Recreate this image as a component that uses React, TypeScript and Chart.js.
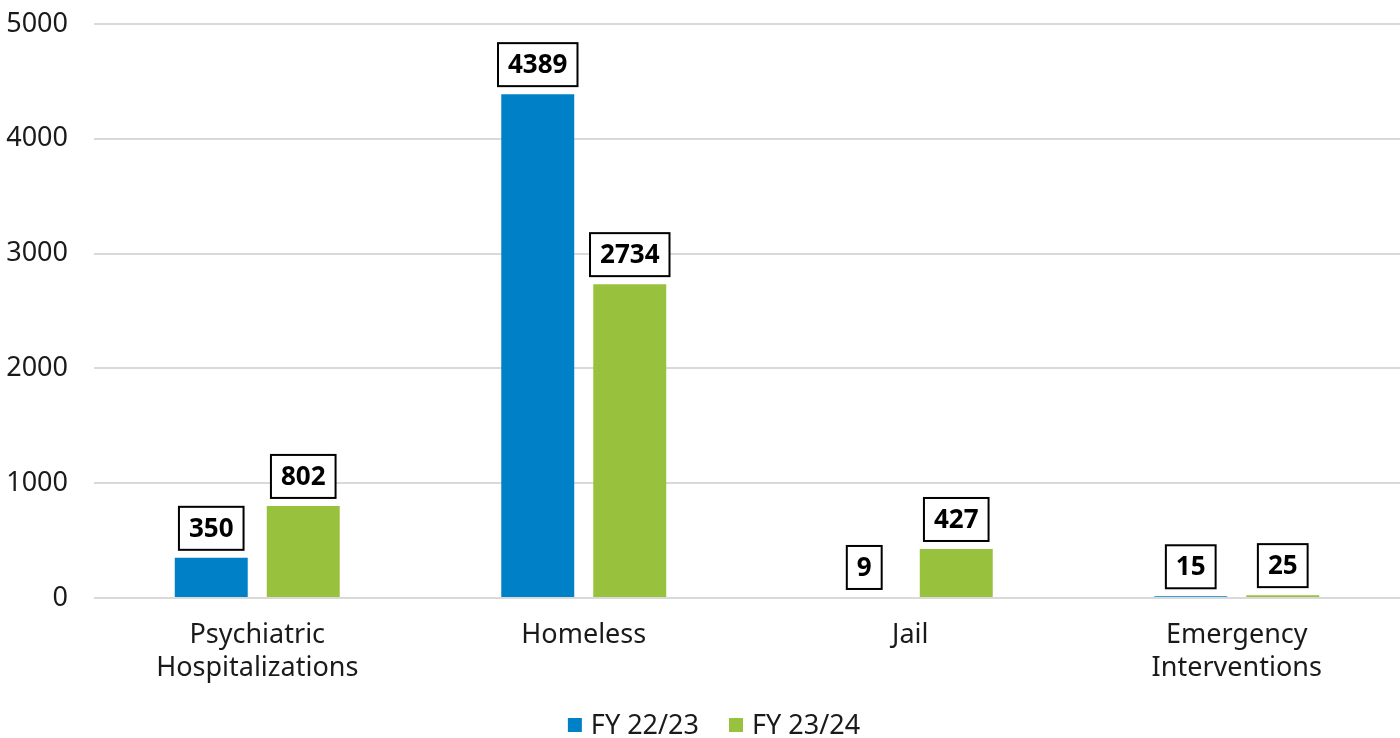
import React, { useEffect, useRef } from "react";
import { Chart, registerables } from "chart.js";

Chart.register(...registerables);

const categories: (string | string[])[] = [
  ["Psychiatric", "Hospitalizations"],
  "Homeless",
  "Jail",
  ["Emergency", "Interventions"],
];
const seriesNames = ["FY 22/23", "FY 23/24"];
const fy2223 = [350, 4389, 9, 15];
const fy2324 = [802, 2734, 427, 25];
const colors = ["#0080C6", "#98C13D"];
const yTicks = [0, 1000, 2000, 3000, 4000, 5000];

const FONT = "'Noto Sans', 'Lato', sans-serif";

const labelPlugin = {
  id: "boxLabels",
  afterDatasetsDraw(chart: any) {
    const ctx = chart.ctx;
    ctx.save();
    ctx.font = `bold 26px ${FONT}`;
    ctx.textAlign = "center";
    ctx.textBaseline = "middle";
    chart.data.datasets.forEach((ds: any, di: number) => {
      const meta = chart.getDatasetMeta(di);
      meta.data.forEach((bar: any, i: number) => {
        const text = String(ds.data[i]);
        const tw = ctx.measureText(text).width;
        const w = tw + 20;
        const h = 43;
        const x = bar.x - w / 2;
        const y = bar.y - 8 - h;
        ctx.fillStyle = "#ffffff";
        ctx.fillRect(x, y, w, h);
        ctx.lineWidth = 2;
        ctx.strokeStyle = "#000000";
        ctx.strokeRect(x, y, w, h);
        ctx.fillStyle = "#000000";
        ctx.fillText(text, bar.x, y + h / 2 + 1);
      });
    });
    ctx.restore();
  },
};

const legendPlugin = {
  id: "customLegend",
  afterDraw(chart: any) {
    const ctx = chart.ctx;
    ctx.save();
    ctx.font = `27px ${FONT}`;
    ctx.textBaseline = "middle";
    ctx.textAlign = "left";
    const box = 14;
    const gap = 9;
    const itemGap = 30;
    const widths = seriesNames.map((n) => box + gap + ctx.measureText(n).width);
    const total = widths.reduce((a, b) => a + b, 0) + itemGap * (seriesNames.length - 1);
    let x = chart.width / 2 + 14 - total / 2;
    const cy = chart.height - 13;
    seriesNames.forEach((n, i) => {
      ctx.fillStyle = colors[i];
      ctx.fillRect(x, cy - box / 2, box, box);
      ctx.fillStyle = "#1a1a1a";
      ctx.fillText(n, x + box + gap, cy + 1);
      x += widths[i] + itemGap;
    });
    ctx.restore();
  },
};

export default function App() {
  const ref = useRef<HTMLCanvasElement>(null);
  useEffect(() => {
    document.body.style.margin = "0";
    const chart = new Chart(ref.current!, {
      type: "bar",
      data: {
        labels: categories as any,
        datasets: [
          {
            label: seriesNames[0],
            data: fy2223,
            backgroundColor: colors[0],
            borderWidth: 0,
            categoryPercentage: 0.5636,
            barPercentage: 0.793,
          },
          {
            label: seriesNames[1],
            data: fy2324,
            backgroundColor: colors[1],
            borderWidth: 0,
            categoryPercentage: 0.5636,
            barPercentage: 0.793,
          },
        ],
      },
      options: {
        responsive: false,
        animation: false,
        layout: { padding: { top: 24, left: 0, right: 0, bottom: 28 } },
        plugins: {
          legend: { display: false },
          tooltip: { enabled: false },
        },
        scales: {
          x: {
            grid: { display: false },
            border: { display: false },
            ticks: {
              color: "#1a1a1a",
              font: { family: FONT, size: 27, lineHeight: 1.22 },
              padding: 13,
              maxRotation: 0,
              autoSkip: false,
            },
            afterFit(scale: any) {
              scale.height = 738 - 598 - 28;
              scale.paddingLeft = 0;
              scale.paddingRight = 0;
            },
          },
          y: {
            min: 0,
            max: 5000,
            afterBuildTicks(scale: any) {
              scale.ticks = yTicks.map((v) => ({ value: v }));
            },
            grid: { color: "#d9d9d9", lineWidth: 2, drawTicks: false },
            border: { display: false },
            ticks: {
              color: "#1a1a1a",
              font: { family: FONT, size: 27 },
              padding: 26,
              callback: (v: any) => String(v),
            },
            afterFit(scale: any) {
              scale.width = 94;
              scale.paddingTop = 0;
              scale.paddingBottom = 0;
            },
          },
        },
      },
      plugins: [labelPlugin, legendPlugin],
    });
    return () => chart.destroy();
  }, []);
  return (
    <div style={{ position: "fixed", left: 0, top: 0, width: 1400, height: 738 }}>
      <canvas ref={ref} width={1400} height={738} />
    </div>
  );
}
